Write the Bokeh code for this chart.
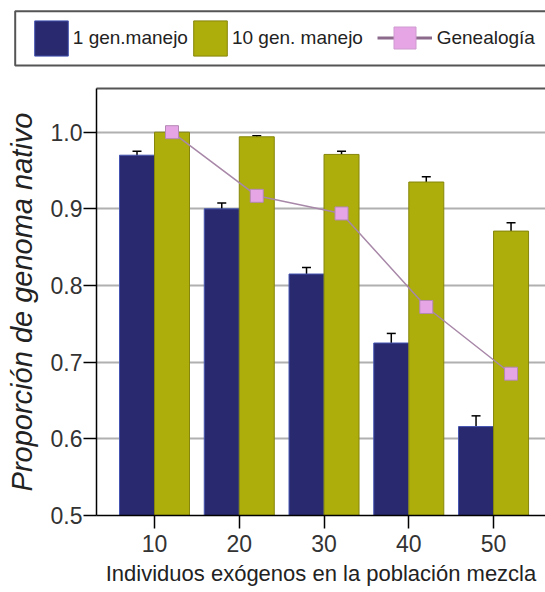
from bokeh.plotting import figure
from bokeh.models import (ColumnDataSource, Whisker, TeeHead, Legend, LegendItem, FixedTicker,
                          NumeralTickFormatter, LinearAxis, Range1d, BoxAnnotation)
from bokeh.transform import dodge
from bokeh.embed import file_html
from bokeh.resources import INLINE

# ---- data ----
groups = [10, 20, 30, 40, 50]
gen1 = [0.970, 0.900, 0.815, 0.725, 0.616]
gen1_err = [0.005, 0.0075, 0.0085, 0.0125, 0.014]
gen10 = [1.000, 0.994, 0.971, 0.935, 0.871]
gen10_err = [0.0, 0.0015, 0.004, 0.007, 0.011]
genealogia = [1.000, 0.917, 0.894, 0.772, 0.685]
y_ticks = [0.5, 0.6, 0.7, 0.8, 0.9, 1.0]
series_labels = ["1 gen.manejo", "10 gen. manejo", "Genealogía"]
x_title = "Individuos exógenos en la población mezcla"
y_title = "Proporción de genoma nativo"

BAR_W = 4.13
FONT = "Liberation Sans"
BLUE, BLUE_EDGE = "#29296f", "#4454b0"
OLIVE, OLIVE_EDGE = "#adad0b", "#86860c"
PINK, PINK_EDGE = "#e6a6e6", "#b488b4"

src = ColumnDataSource(dict(
    x=groups, gen1=gen1, gen10=gen10, gen=genealogia,
    g1_up=[v + e for v, e in zip(gen1, gen1_err)],
    g1_lo=[v - e for v, e in zip(gen1, gen1_err)],
    g10_up=[v + e for v, e in zip(gen10, gen10_err)],
    g10_lo=[v - e for v, e in zip(gen10, gen10_err)],
))

# ---------------- legend strip (own root, frame = whole canvas) ----------------
lfig = figure(width=545, height=84, x_range=Range1d(0, 1), y_range=Range1d(0, 1),
              output_backend="svg", toolbar_location=None,
              x_axis_location=None, y_axis_location=None,
              min_border=0, min_border_left=0, min_border_right=0, min_border_top=0, min_border_bottom=0)
lfig.outline_line_color = None
lfig.xgrid.visible = False
lfig.ygrid.visible = False

# legend swatch renderers (their data lies outside this strip's ranges)
l_bar1 = lfig.vbar(x="x", top="gen1", width=BAR_W, source=src, fill_color=BLUE, line_color=BLUE_EDGE)
l_bar10 = lfig.vbar(x="x", top="gen10", width=BAR_W, source=src, fill_color=OLIVE, line_color=OLIVE_EDGE)
l_line = lfig.line(x="x", y="gen", source=src, line_color="#8c6a8c", line_width=3)
l_sq = lfig.scatter(x="x", y="gen", source=src, marker="square", fill_color=PINK, line_color="#cf9acf")

box = BoxAnnotation(left=14.7, right=600, top=10.7, bottom=65,
                    left_units="canvas", right_units="canvas", top_units="canvas", bottom_units="canvas",
                    fill_color="white", fill_alpha=1, line_color="#555555", line_width=2, line_alpha=1)
lfig.add_layout(box)

legend_a = Legend(items=[LegendItem(label=series_labels[0], renderers=[l_bar1]),
                         LegendItem(label=series_labels[1], renderers=[l_bar10])],
                  orientation="horizontal", location=(29.8, 24.4),
                  glyph_width=42, glyph_height=44, padding=0, spacing=1, label_standoff=1, margin=0,
                  border_line_color=None, background_fill_alpha=0,
                  label_text_font=FONT, label_text_font_size="19px", label_text_color="#222222")
legend_b = Legend(items=[LegendItem(label=series_labels[2], renderers=[l_line, l_sq])],
                  orientation="horizontal", location=(376.7, 18.8),
                  glyph_width=55, glyph_height=55, padding=0, spacing=0, label_standoff=5, margin=0,
                  border_line_color=None, background_fill_alpha=0,
                  label_text_font=FONT, label_text_font_size="19px", label_text_color="#222222")
lfig.add_layout(legend_a, "center")
lfig.add_layout(legend_b, "center")

# ---------------- main chart ----------------
p = figure(width=545, height=504, x_range=Range1d(3.156, 56.13), y_range=Range1d(0.5, 1.057),
           output_backend="svg", toolbar_location=None,
           min_border_left=96, min_border_right=0, min_border_top=4, min_border_bottom=73)
p.outline_line_color = None
p.background_fill_color = "white"
p.border_fill_color = "white"

p.xgrid.visible = False
p.ygrid.ticker = FixedTicker(ticks=y_ticks)
p.ygrid.grid_line_color = "#b0b0b0"
p.ygrid.grid_line_width = 2

p.vbar(x=dodge("x", -BAR_W / 2, range=p.x_range), top="gen1", bottom=0.5, width=BAR_W,
       source=src, fill_color=BLUE, line_color=BLUE_EDGE, line_width=1)
p.vbar(x=dodge("x", BAR_W / 2, range=p.x_range), top="gen10", bottom=0.5, width=BAR_W,
       source=src, fill_color=OLIVE, line_color=OLIVE_EDGE, line_width=1)

for base_off, up, lo in [(-BAR_W / 2, "g1_up", "g1_lo"), (BAR_W / 2, "g10_up", "g10_lo")]:
    w = Whisker(source=src, base=dodge("x", base_off, range=p.x_range), upper=up, lower=lo,
                line_color="black", line_width=1.5,
                upper_head=TeeHead(size=9, line_color="black", line_width=1.5),
                lower_head=TeeHead(size=9, line_color="black", line_width=1.5))
    p.add_layout(w)

p.line(x=dodge("x", BAR_W / 2, range=p.x_range), y="gen", source=src,
       line_color="#a888a8", line_width=1.5)
p.scatter(x=dodge("x", BAR_W / 2, range=p.x_range), y="gen", source=src, marker="square",
          size=13, fill_color=PINK, line_color=PINK_EDGE, line_width=1)

for ax in (p.xaxis[0], p.yaxis[0]):
    ax.axis_line_color = "black"
    ax.axis_line_width = 1.5
    ax.major_tick_line_color = "black"
    ax.major_tick_line_width = 1.5
    ax.major_tick_out = 13
    ax.major_tick_in = 0
    ax.minor_tick_line_color = None
    ax.major_label_text_font = FONT
    ax.major_label_text_font_size = "23px"
    ax.major_label_text_color = "#333333"
    ax.axis_label_text_font = FONT
    ax.axis_label_text_color = "#222222"

p.xaxis.ticker = FixedTicker(ticks=groups)
p.xaxis.major_label_standoff = 6
p.xaxis.axis_label = x_title
p.xaxis.axis_label_text_font_size = "22px"
p.xaxis.axis_label_text_font_style = "normal"
p.xaxis.axis_label_standoff = 6

p.yaxis.ticker = FixedTicker(ticks=y_ticks)
p.yaxis.formatter = NumeralTickFormatter(format="0.0")
p.yaxis.major_label_standoff = 1
p.yaxis.axis_label = y_title
p.yaxis.axis_label_text_font_size = "29px"
p.yaxis.axis_label_text_font_style = "italic"
p.yaxis.axis_label_standoff = 10

top_axis = LinearAxis(ticker=FixedTicker(ticks=[]), axis_line_color="#555555", axis_line_width=2,
                      major_tick_line_color=None, minor_tick_line_color=None,
                      major_tick_out=0, major_tick_in=0, major_label_standoff=0)
p.add_layout(top_axis, "above")

open("out.html", "w").write(file_html([lfig, p], INLINE))
